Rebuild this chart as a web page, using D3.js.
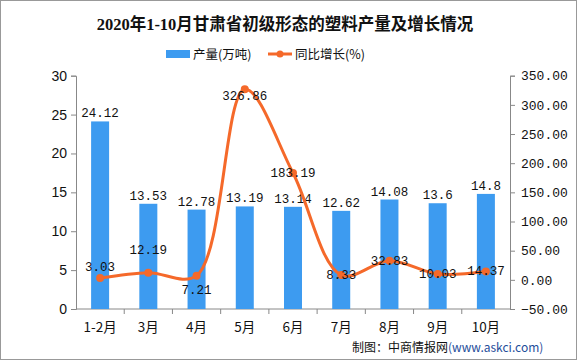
<!DOCTYPE html>
<html><head><meta charset="utf-8">
<script src="https://cdn.jsdelivr.net/npm/d3@7"></script>
<style>body{margin:0;background:#fff}svg{display:block}</style>
</head><body>
<script>
const categories = ["1-2月","3月","4月","5月","6月","7月","8月","9月","10月"];
const output = [24.12,13.53,12.78,13.19,13.14,12.62,14.08,13.6,14.8];
const growth = [3.03,12.19,7.21,326.86,183.19,8.33,32.83,10.03,14.37];
const leftTicks = [0,5,10,15,20,25,30];
const rightTicks = [-50,0,50,100,150,200,250,300,350];
const growthLabelDy = [-11,-23,14,7,0,0,0,0,0];

const W=577,H=360;
const svg=d3.select("body").append("svg").attr("width",W).attr("height",H);
svg.append("rect").attr("x",0.5).attr("y",0.5).attr("width",W-1).attr("height",H-1).attr("fill","#fff").attr("stroke","#999");

const L=76,R=510,T=75.7,B=309;
const x=d3.scaleBand().domain(categories).range([L,R]);
const yL=d3.scaleLinear().domain([0,30]).range([B,T]);
const yR=d3.scaleLinear().domain([-50,350]).range([B,T]);
const mono="'Liberation Mono','DejaVu Sans Mono','Noto Sans CJK SC',monospace";
const axColor="#888";

// title
svg.append("text").attr("x",285).attr("y",30).attr("text-anchor","middle")
 .attr("font-family","'Liberation Serif','Noto Sans CJK SC',serif").attr("font-weight","bold")
 .attr("font-size",16.5).attr("fill","#111").text("2020年1-10月甘肃省初级形态的塑料产量及增长情况");

// legend
svg.append("rect").attr("x",166).attr("y",50).attr("width",24).attr("height",8).attr("fill","#3D9BF0");
svg.append("text").attr("x",193).attr("y",59).attr("font-family","'Noto Sans CJK SC',sans-serif").attr("font-size",12.5).attr("fill","#111").text("产量(万吨)");
svg.append("line").attr("x1",268).attr("x2",292).attr("y1",54).attr("y2",54).attr("stroke","#F5692A").attr("stroke-width",3);
svg.append("circle").attr("cx",280).attr("cy",54).attr("r",3.5).attr("fill","#F5692A");
svg.append("text").attr("x",295).attr("y",59).attr("font-family","'Noto Sans CJK SC',sans-serif").attr("font-size",12.5).attr("fill","#111").text("同比增长(%)");

// axes
const gl=svg.append("g").attr("transform",`translate(${L},0)`).call(d3.axisLeft(yL).tickValues(leftTicks).tickSize(5).tickPadding(4));
const gr=svg.append("g").attr("transform",`translate(${R},0)`).call(d3.axisRight(yR).tickValues(rightTicks).tickSize(5).tickPadding(6).tickFormat(d3.format(".2f")));
const gx=svg.append("g").attr("transform",`translate(0,${B})`).call(d3.axisBottom(x).tickSize(0).tickPadding(13));
[gl,gr,gx].forEach(g=>{g.selectAll("path,line").attr("stroke",axColor);g.selectAll("text").attr("fill","#111").attr("font-size",13);});
gl.selectAll("text").attr("font-family","'Liberation Sans',Arial,sans-serif").attr("font-size",14);
gr.selectAll("text").attr("font-family",mono).attr("font-size",13);
gx.selectAll("text").attr("font-family","'Noto Sans CJK SC',sans-serif").attr("font-size",13.5);
gx.select(".domain").attr("d",`M${L},0H${R}`);
// band boundary ticks
svg.append("g").selectAll("line").data(categories.slice(1)).join("line")
 .attr("x1",d=>x(d)).attr("x2",d=>x(d)).attr("y1",B).attr("y2",B+5).attr("stroke",axColor);

// bars
svg.append("g").selectAll("rect").data(output).join("rect")
 .attr("x",(d,i)=>x(categories[i])+x.bandwidth()/2-9).attr("width",18)
 .attr("y",d=>yL(d)).attr("height",d=>B-yL(d)).attr("fill","#3D9BF0");
svg.append("g").selectAll("text").data(output).join("text")
 .attr("x",(d,i)=>x(categories[i])+x.bandwidth()/2).attr("y",d=>yL(d)-4)
 .attr("text-anchor","middle").attr("font-family",mono).attr("font-size",12.5).attr("fill","#111").text(d=>d);

// line
const pts=growth.map((d,i)=>[x(categories[i])+x.bandwidth()/2,yR(d)]);
svg.append("path").attr("d",d3.line().curve(d3.curveCatmullRom.alpha(0.5))(pts))
 .attr("fill","none").attr("stroke","#F5692A").attr("stroke-width",3);
svg.append("g").selectAll("circle").data(pts).join("circle")
 .attr("cx",d=>d[0]).attr("cy",d=>d[1]).attr("r",4).attr("fill","#F5692A");
svg.append("g").selectAll("text").data(growth).join("text")
 .attr("x",(d,i)=>pts[i][0]).attr("y",(d,i)=>pts[i][1]+growthLabelDy[i]+4)
 .attr("text-anchor","middle").attr("font-family",mono).attr("font-size",12.5).attr("fill","#111").text(d=>d.toFixed(2));

// footer
const ft=svg.append("text").attr("x",352).attr("y",352).attr("font-family","'Noto Sans CJK SC',sans-serif").attr("font-size",12);
ft.append("tspan").attr("fill","#111").text("制图：中商情报网");
ft.append("tspan").attr("fill","#1f4e9a").text("(www.askci.com)");
</script>
</body></html>
